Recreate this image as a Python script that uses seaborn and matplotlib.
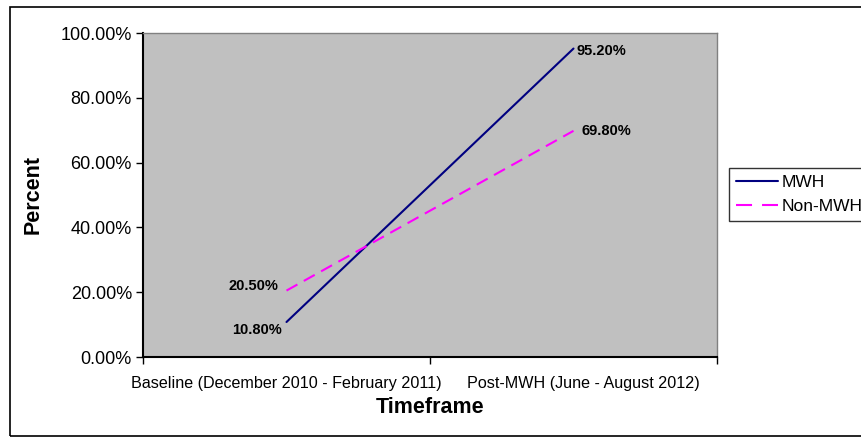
import numpy as np
import pandas as pd
import seaborn as sns
import matplotlib.pyplot as plt
import matplotlib.transforms as mtransforms
from matplotlib.patches import Rectangle

# -------------------------------
# Data
# -------------------------------
timeframes = ["Baseline (December 2010 - February 2011)", "Post-MWH (June - August 2012)"]
mwh = [10.8, 95.2]
non_mwh = [20.5, 69.8]
y_ticks = [0, 20, 40, 60, 80, 100]

df = pd.DataFrame({
    "pos": [0, 1, 0, 1],
    "value": mwh + non_mwh,
    "group": ["MWH"] * 2 + ["Non-MWH"] * 2,
})

sns.set_style("white")
plt.rcParams['font.family'] = ['Liberation Sans', 'DejaVu Sans']
plt.rcParams['text.color'] = 'black'
plt.rcParams['axes.labelcolor'] = 'black'
plt.rcParams['xtick.color'] = 'black'
plt.rcParams['ytick.color'] = 'black'

fig = plt.figure(figsize=(8.61, 4.37), dpi=100)
ax = fig.add_axes([143 / 861, 80 / 437, 574 / 861, 324 / 437])

sns.lineplot(data=df, x="pos", y="value", hue="group", style="group",
             palette={"MWH": "#000080", "Non-MWH": "#FF00FF"},
             dashes={"MWH": "", "Non-MWH": (6, 3.5)},
             linewidth=1.5, ax=ax, legend=True)

ax.set_facecolor("#C0C0C0")
ax.set_xlim(-0.5, 1.5)
ax.set_ylim(0, 100)

# ticks at category boundaries, labels at centers
ax.set_xticks([-0.5, 0.5, 1.5])
ax.set_xticklabels([])
ax.set_xticks([0, 1], minor=True)
ax.set_xticklabels(timeframes, minor=True, fontsize=11.6)
ax.tick_params(axis="x", which="major", direction="out", length=5, width=1, bottom=True)
ax.tick_params(axis="x", which="minor", length=0, pad=14)
# second label sits a bit right of its category centre in the original
lbl = ax.get_xticklabels(minor=True)[1]
lbl.set_transform(lbl.get_transform() + mtransforms.ScaledTranslation(0.1, 0, fig.dpi_scale_trans))
ax.set_yticks(y_ticks)
ax.set_yticklabels([f"{v:.2f}%" for v in y_ticks], fontsize=13)
ax.tick_params(axis="y", direction="out", length=5, width=1, left=True, pad=3)

for s in ["top", "right"]:
    ax.spines[s].set_color("#808080")
    ax.spines[s].set_linewidth(1)
for s in ["left", "bottom"]:
    ax.spines[s].set_color("black")
    ax.spines[s].set_linewidth(1.5)

ax.set_xlabel("Timeframe", fontsize=15.5, fontweight="bold", labelpad=4)
ax.set_ylabel("Percent", fontsize=15.5, fontweight="bold", labelpad=12)

# data labels
for i, v in enumerate(mwh):
    if i == 0:
        ax.annotate(f"{v:.2f}%", (i, v), xytext=(-3, -6), textcoords="offset points",
                    ha="right", va="center", fontsize=10.5, fontweight="bold")
    else:
        ax.annotate(f"{v:.2f}%", (i, v), xytext=(2, -2), textcoords="offset points",
                    ha="left", va="center", fontsize=10.5, fontweight="bold")
for i, v in enumerate(non_mwh):
    if i == 0:
        ax.annotate(f"{v:.2f}%", (i, v), xytext=(-6, 3), textcoords="offset points",
                    ha="right", va="center", fontsize=10.5, fontweight="bold")
    else:
        ax.annotate(f"{v:.2f}%", (i, v), xytext=(6, 0), textcoords="offset points",
                    ha="left", va="center", fontsize=10.5, fontweight="bold")

leg = ax.legend(title=None, loc="upper left", bbox_to_anchor=(729 / 861, 1 - 168 / 437),
                bbox_transform=fig.transFigure, frameon=True, fancybox=False,
                fontsize=12.5, handlelength=2.4, handletextpad=0.25, borderpad=0.4,
                labelspacing=0.5, borderaxespad=0)
leg.get_frame().set_edgecolor("black")
leg.get_frame().set_linewidth(1)
# legend sample shows two long dashes
leg.get_lines()[1].set_dashes((7.7, 4.8))

# outer chart border
fig.patches.append(Rectangle((10 / 861, 1 / 437), 0.999, 1 - 8 / 437,
                             transform=fig.transFigure, fill=False,
                             edgecolor="black", linewidth=1.2))

fig.savefig("out.png", dpi=100)
